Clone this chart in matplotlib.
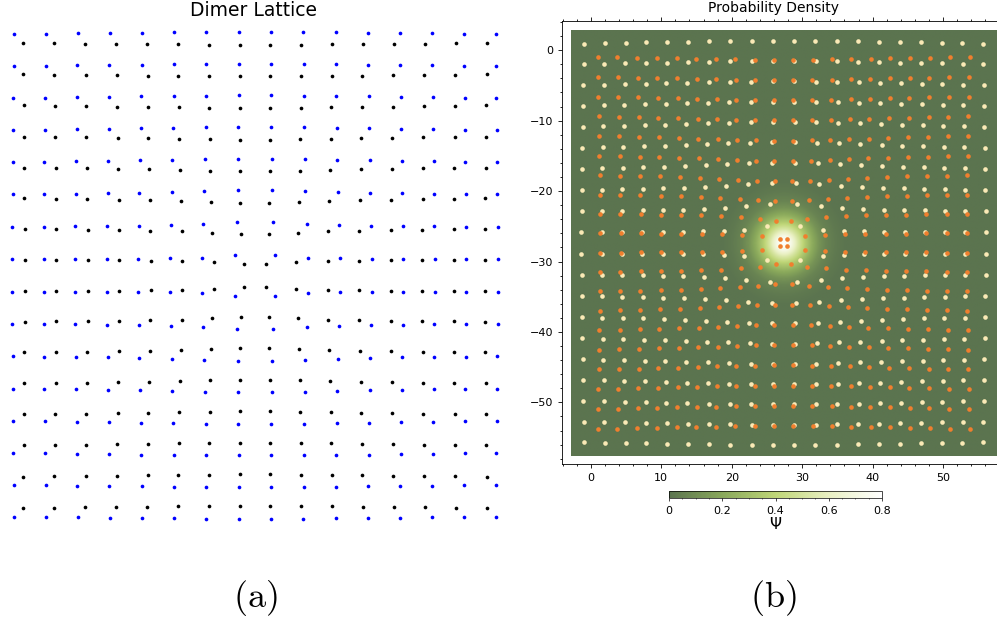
import numpy as np
import matplotlib
matplotlib.use('Agg')
import matplotlib.pyplot as plt
from matplotlib.colors import LinearSegmentedColormap
from matplotlib.ticker import AutoMinorLocator, MultipleLocator

plt.rcParams['mathtext.fontset'] = 'cm'

# (a) unit cells of the dimer lattice (cell units), dimers lean towards the core
cols_a = [0, 1, 2, 3, 4, 5, 6, 7, 8, 9, 10, 11, 12, 13, 14, 15]
rows_a = [0, -1, -2, -3, -4, -5, -6, -7, -8, -9, -10, -11, -12, -13, -14, -15]
bond_a = 0.40

# (b) same lattice used for the density plot, lattice constant ~2.88
cols_b = [0.0, 2.88, 5.76, 8.64, 11.52, 14.40, 17.28, 20.16, 23.04, 25.92,
          28.80, 31.68, 34.56, 37.44, 40.32, 43.20, 46.08, 48.96, 51.84, 54.72]
rows_b = [0.0, -2.88, -5.76, -8.64, -11.52, -14.40, -17.28, -20.16, -23.04, -25.92,
          -28.80, -31.68, -34.56, -37.44, -40.32, -43.20, -46.08, -48.96, -51.84, -54.72]
bond_b = 2.68

# radial profile of the bound state |psi| around the vortex core
glow_r = [0, 1.0, 2.0, 3.0, 4.0, 5.0, 6.0, 7.5, 9.0]
glow_psi = [0.80, 0.72, 0.52, 0.35, 0.22, 0.12, 0.06, 0.02, 0.0]
psi_ticks = [0, 0.2, 0.4, 0.6, 0.8]
psi_labels = ['0', '0.2', '0.4', '0.6', '0.8']


def dimer_sites(xs, ys, bond):
    X, Y = np.meshgrid(xs, ys)
    cx, cy = np.mean(xs), np.mean(ys)
    dx, dy = cx - X, cy - Y
    r = np.hypot(dx, dy)
    ux, uy = dx / r, dy / r
    outer = (X - 0.5 * bond * ux, Y - 0.5 * bond * uy)
    inner = (X + 0.5 * bond * ux, Y + 0.5 * bond * uy)
    return outer, inner


W, H = 997, 624
fig = plt.figure(figsize=(W / 100, H / 100), dpi=100)

# ---- (a) dimer lattice
axa = fig.add_axes([0, 1 - 525 / H, 510 / W, 500 / H])
(ax_o, ay_o), (ax_i, ay_i) = dimer_sites(cols_a, rows_a, bond_a)
axa.scatter(ax_o.ravel(), ay_o.ravel(), s=7, c='#0000ff', lw=0)
axa.scatter(ax_i.ravel(), ay_i.ravel(), s=7, c='black', lw=0)
axa.set_xlim(-0.587, 15.59)
axa.set_ylim(-15.40, 0.427)
axa.axis('off')
fig.text(254 / W, 1 - 10 / H, 'Dimer Lattice', ha='center', va='center', fontsize=13.5)

# ---- (b) probability density
cmap = LinearSegmentedColormap.from_list(
    'psi', ['#5b744f', '#89a85b', '#bfd677', '#e9f0c2', '#ffffff'])

cx, cy = np.mean(cols_b), np.mean(rows_b)
half = 30.2
gx = np.linspace(cx - half, cx + half, 400)
gy = np.linspace(cy - half, cy + half, 400)
GX, GY = np.meshgrid(gx, gy)
field = np.interp(np.hypot(GX - cx, GY - cy), glow_r, glow_psi)

axb = fig.add_axes([562 / W, 1 - 464 / H, 443 / W, 443 / H])
im = axb.imshow(field, extent=[cx - half, cx + half, cy - half, cy + half],
                origin='lower', cmap=cmap, vmin=0, vmax=0.8, interpolation='bilinear')
(bx_o, by_o), (bx_i, by_i) = dimer_sites(cols_b, rows_b, bond_b)
axb.scatter(bx_o.ravel(), by_o.ravel(), s=11, c='#fbeab6', lw=0, zorder=3)
axb.scatter(bx_i.ravel(), by_i.ravel(), s=11, c='#f07f2e', lw=0, zorder=3)
axb.set_xlim(-4.1, 58.8)
axb.set_ylim(-58.7, 4.1)
axb.xaxis.set_major_locator(MultipleLocator(10))
axb.yaxis.set_major_locator(MultipleLocator(10))
axb.xaxis.set_minor_locator(AutoMinorLocator(5))
axb.yaxis.set_minor_locator(AutoMinorLocator(5))
axb.tick_params(which='both', direction='out', top=True, right=True, labelsize=8, width=0.6)
axb.tick_params(which='major', length=3)
axb.tick_params(which='minor', length=1.5)
for sp in axb.spines.values():
    sp.set_linewidth(0.6)
fig.text(774 / W, 1 - 8 / H, 'Probability Density', ha='center', va='center', fontsize=10)

cax = fig.add_axes([669 / W, 1 - 498 / H, 213 / W, 7 / H])
cb = fig.colorbar(im, cax=cax, orientation='horizontal', ticks=psi_ticks)
cb.ax.set_xticklabels(psi_labels)
cb.ax.tick_params(labelsize=8, length=2, width=0.5)
cb.ax.xaxis.set_minor_locator(MultipleLocator(0.05))
cb.ax.tick_params(which='minor', length=1, width=0.4)
cb.outline.set_linewidth(0.5)
cb.set_label('Ψ', fontsize=11, labelpad=1)

fig.text(255 / W, 1 - 598 / H, r'$\mathrm{(a)}$', ha='center', va='center', fontsize=26)
fig.text(773 / W, 1 - 598 / H, r'$\mathrm{(b)}$', ha='center', va='center', fontsize=26)

fig.savefig('out.png', dpi=100)
